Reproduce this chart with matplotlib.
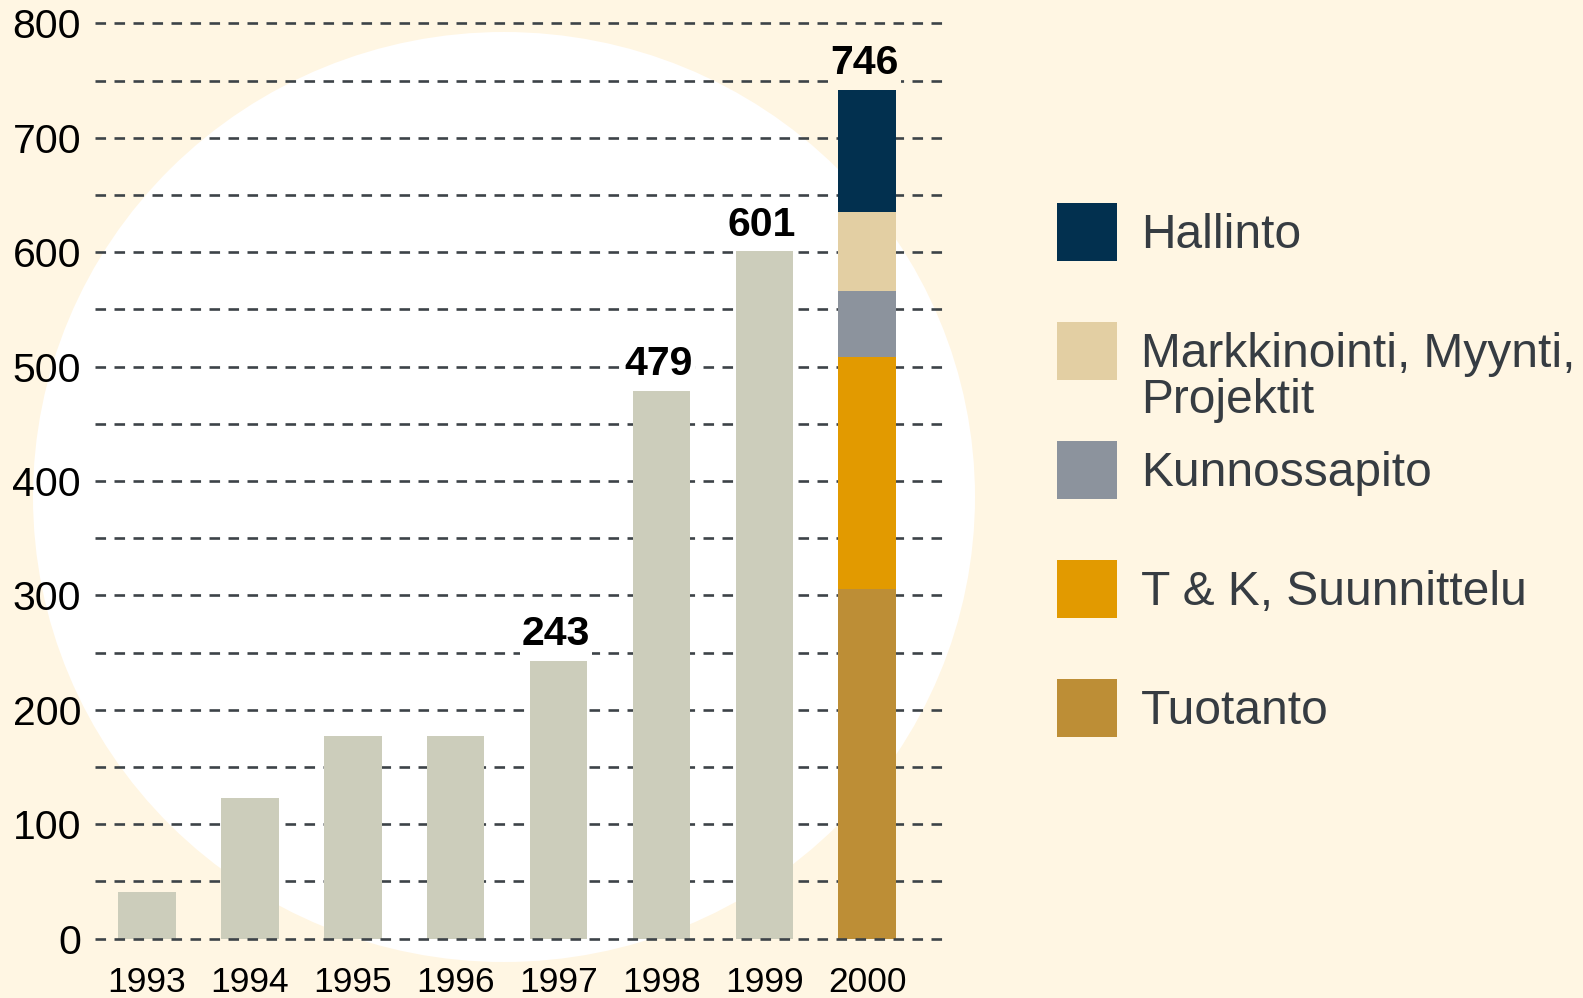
import numpy as np
import matplotlib
matplotlib.use('Agg')
import matplotlib.pyplot as plt
from matplotlib.patches import Ellipse, Rectangle

plt.rcParams['font.family'] = ['Liberation Sans', 'DejaVu Sans']

# data
years = ['1993', '1994', '1995', '1996', '1997', '1998', '1999', '2000']
totals = [41, 123, 177, 177, 243, 479, 601]          # plain grey bars 1993-1999
value_labels = [None, None, None, None, 243, 479, 601, 746]

# 2000 split, bottom to top
seg_names = ['Tuotanto', 'T & K, Suunnittelu', 'Kunnossapito',
             'Markkinointi, Myynti,\nProjektit', 'Hallinto']
seg_values = [306, 202, 58, 69, 107]
seg_colors = ['#bd8e36', '#e29a00', '#8c939d', '#e3cfa3', '#02304f']

bg = '#fff6e3'
grey_bar = '#cccdbb'
grid_col = '#3d4348'
legend_txt = '#363c42'

W, H = 1583, 998
fig = plt.figure(figsize=(W / 100, H / 100), dpi=100, facecolor=bg)

# background layer in pixel units: white disc + legend
bgax = fig.add_axes([0, 0, 1, 1], zorder=-1)
bgax.set_xlim(0, W)
bgax.set_ylim(H, 0)
bgax.axis('off')
bgax.add_patch(Ellipse((504, 497), 942, 930, color='white', lw=0))

# main chart
y0_px, y800_px = 938.7, 23.3
x_left, x_right = 95, 943
ax = fig.add_axes([x_left / W, (H - y0_px) / H, (x_right - x_left) / W, (y0_px - y800_px) / H])
ax.set_facecolor('none')
ax.set_ylim(0, 800)
xlo, xhi = -0.505, (x_right - 147) / 102.9
ax.set_xlim(xlo, xhi)

x = np.arange(len(years))
bw = 0.56
ax.bar(x[:len(totals)], totals, width=bw, color=grey_bar, zorder=1)

bottom = 0
for name, v, c in zip(seg_names, seg_values, seg_colors):
    ax.bar(x[-1], v, bottom=bottom, width=bw, color=c, zorder=1)
    bottom += v
tops = totals + [bottom]

# dashed grid every 50
levels = np.arange(50, 801, 50)
ax.hlines(levels, xlo, xhi, colors=grid_col, linewidth=1.9,
          linestyles=(0, (4, 3.2)), zorder=0.5, clip_on=False)
ax.hlines([0], xlo, xhi, colors=grid_col, linewidth=1.9,
          linestyles=(0, (4, 3.2)), zorder=3, clip_on=False)

for i, lab in enumerate(value_labels):
    if lab is None:
        continue
    face = bg if i == len(years) - 1 else 'white'
    ax.annotate(str(lab), (x[i], tops[i]), xytext=(-2, 11), textcoords='offset points',
                ha='center', va='baseline', fontsize=29.5, fontweight='bold', color='black',
                bbox=dict(boxstyle='square,pad=0.05', fc=face, ec='none'), zorder=4)

ax.set_yticks(np.arange(0, 801, 100))
ax.set_xticks(x)
ax.set_xticklabels(years)
ax.tick_params(axis='y', length=0, pad=10, labelsize=29.5, labelcolor='black')
ax.tick_params(axis='x', length=0, pad=20, labelsize=25.5, labelcolor='black')
for s in ax.spines.values():
    s.set_visible(False)

# legend, top entry = top of the stack
for i, (name, c) in enumerate(zip(seg_names[::-1], seg_colors[::-1])):
    cy = 232 + 119 * i
    bgax.add_patch(Rectangle((1057, cy - 29), 60, 58, color=c, lw=0))
    for j, line in enumerate(name.split('\n')):
        bgax.text(1141, cy + 16 + 46 * j, line, fontsize=34.5, color=legend_txt,
                  ha='left', va='baseline')

fig.savefig('out.png', dpi=100, facecolor=bg)
